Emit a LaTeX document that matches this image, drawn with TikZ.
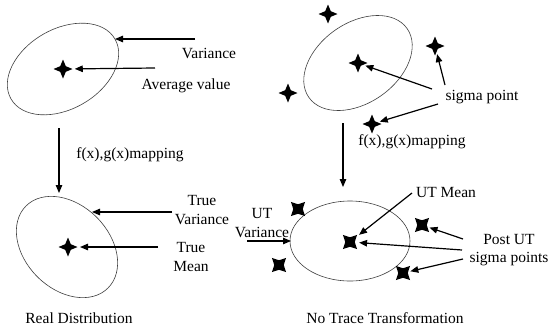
\documentclass[tikz,border=0pt]{standalone}
\usepackage{fontspec}
\setmainfont{Liberation Serif}
\usetikzlibrary{positioning, shapes.geometric, arrows.meta}

\begin{document}
\begin{tikzpicture}[x=1pt, y=-1pt,
    lbl/.style={font=\fontsize{15.5}{18.5}\selectfont, align=center, inner sep=0pt},
    spark/.style={star, star points=4, star point ratio=2.4, fill=black, minimum size=19pt, inner sep=0pt},
    xspark/.style={spark, star point ratio=2.1, minimum size=20pt, shape border rotate=45},
    blob/.style={draw=black!75, line width=0.6pt},
    arr/.style={-{Triangle[length=8pt,width=6.5pt]}, line width=1.2pt}]
  \useasboundingbox (0,0) rectangle (550,330);

  % left: real distribution
  \draw[blob, rotate around={30:(63,69)}] (63,69) ellipse [x radius=60, y radius=40];
  \node[spark] (m1) at (63,69) {};
  \node[lbl] (var) at (209,53) {Variance};
  \node[lbl] (avg) at (186,86) {Average value};
  \coordinate (varT) at (195,39);
  \coordinate (varH) at (115,39);
  \coordinate (avgT) at (155,68);
  \draw[arr] (varT) -- (varH);
  \draw[arr, shorten >=2pt] (avgT) -- (m1);

  \coordinate (map1T) at (59,128);
  \coordinate (map1H) at (59,193);
  \draw[arr] (map1T) -- (map1H);
  \node[lbl] (map1) at (130,155) {f(x),g(x)mapping};

  \draw[blob, rotate around={-45:(67,247)}] (67,247) ellipse [x radius=58, y radius=42];
  \node[spark] (m2) at (68,247) {};
  \node[lbl] (tvar) at (202,210) {True\\Variance};
  \node[lbl] (tmean) at (191,257) {True\\Mean};
  \coordinate (tvarT) at (172,212);
  \coordinate (tvarH) at (92,212);
  \coordinate (tmeanT) at (158,247);
  \draw[arr] (tvarT) -- (tvarH);
  \draw[arr, shorten >=2pt] (tmeanT) -- (m2);
  \node[lbl] (real) at (79,318) {Real Distribution};

  % right: sigma points
  \draw[blob, rotate around={35:(358,63)}] (358,63) ellipse [x radius=60, y radius=40];
  \node[spark] (r1) at (328,14) {};
  \node[spark] (r2) at (435,46) {};
  \node[spark] (r3) at (358,63) {};
  \node[spark] (r4) at (288,93) {};
  \node[spark] (r5) at (372,124) {};
  \node[lbl] (sig) at (482,97) {sigma point};
  \coordinate (sigA) at (432,89);
  \coordinate (sigB) at (445,85);
  \coordinate (sigC) at (438,104);
  \draw[arr, shorten >=2pt] (sigA) -- (r3);
  \draw[arr, shorten >=2pt] (sigB) -- (r2);
  \draw[arr, shorten >=2pt] (sigC) -- (r5);

  \coordinate (map2T) at (343,123);
  \coordinate (map2H) at (343,187);
  \draw[arr] (map2T) -- (map2H);
  \node[lbl] (map2) at (412,142) {f(x),g(x)mapping};

  \draw[blob] (350,241) ellipse [x radius=60, y radius=40];
  \node[xspark] (b1) at (298,209) {};
  \node[xspark] (b2) at (422,225) {};
  \node[xspark] (b3) at (350,242) {};
  \node[xspark] (b4) at (403,273) {};
  \node[xspark] (b5) at (279,265) {};
  \node[lbl] (utm) at (446,192) {UT Mean};
  \node[lbl] (post) at (509,250) {Post UT\\sigma points};
  \node[lbl] (utv) at (262,223) {UT\\Variance};
  \coordinate (utmT) at (412,193);
  \coordinate (postA) at (463,239);
  \coordinate (postB) at (462,250);
  \coordinate (postC) at (463,259);
  \coordinate (utvT) at (247,241);
  \coordinate (utvH) at (291,241);
  \draw[arr, shorten >=3pt] (utmT) -- (b3);
  \draw[arr, shorten >=2pt] (postA) -- (b2);
  \draw[arr, shorten >=4pt] (postB) -- (b3);
  \draw[arr, shorten >=2pt] (postC) -- (b4);
  \draw[arr] (utvT) -- (utvH);
  \node[lbl] (notrace) at (385,318) {No Trace Transformation};
\end{tikzpicture}
\end{document}
